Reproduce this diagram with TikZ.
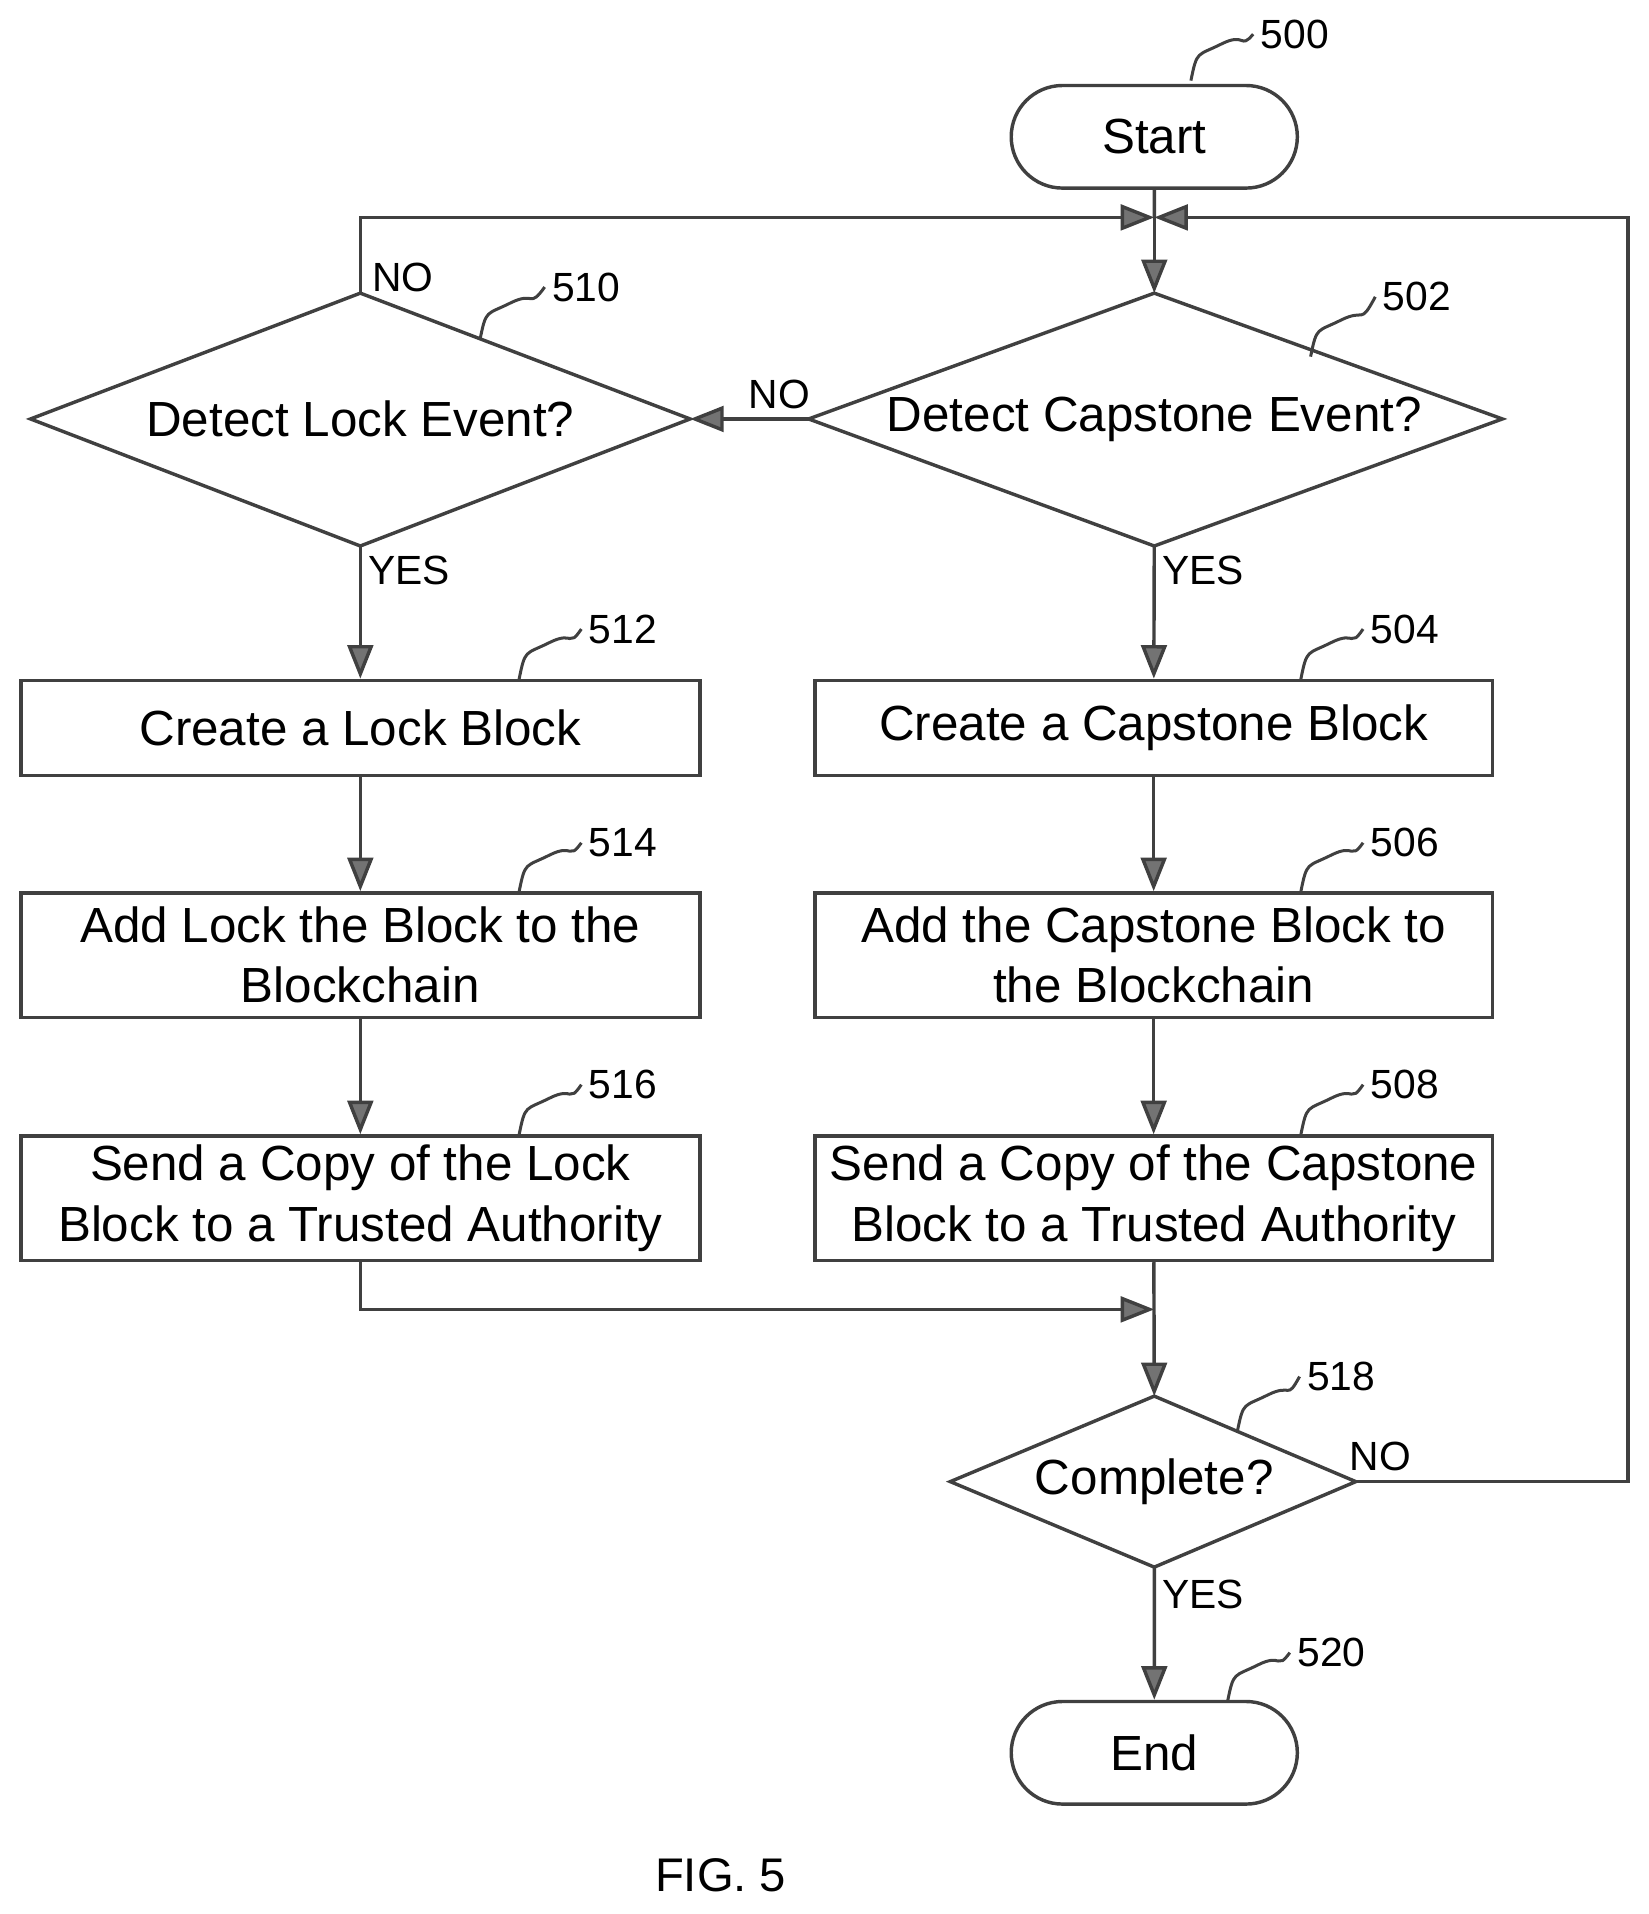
\documentclass[tikz,border=0pt]{standalone}
\usepackage{fontspec}
\setmainfont{Liberation Sans}
\usetikzlibrary{shapes.geometric,shapes.misc,arrows.meta}
\begin{document}
\begin{tikzpicture}[x=0.02cm,y=-0.02cm,
  ln/.style={draw=black!75,line width=1.6pt},
  arr/.style={ln,-{Triangle[length=0.55cm,width=0.42cm,fill=black!55]}},
  box/.style={ln,rectangle,minimum width=11.12cm,align=center,inner sep=0pt,font=\fontsize{23}{28}\selectfont},
  term/.style={ln,rounded rectangle,minimum width=4.92cm,minimum height=1.68cm,font=\fontsize{23}{28}\selectfont},
  dtxt/.style={font=\fontsize{23}{28}\selectfont},
  lab/.style={font=\fontsize{19}{22}\selectfont},
  tag/.style={font=\fontsize{19}{22}\selectfont},
  lead/.style={draw=black!75,line width=1.4pt}]
\useasboundingbox (0,0) rectangle (1350,1567);
\node[term] (start) at (945,112) {Start};
\node[term] (end) at (945,1435) {End};
\coordinate (j) at (945,178);
\path[ln] (662,343) coordinate (d502w) -- (945,240) coordinate (d502n) -- (1230,343) -- (945,447) coordinate (d502s) -- cycle;
\node[dtxt] (t502) at (945,343) {Detect Capstone Event?};
\path[ln] (25,343) -- (295,240) coordinate (d510n) -- (565,343) coordinate (d510e) -- (295,447) coordinate (d510s) -- cycle;
\node[dtxt] (t510) at (295,343) {Detect Lock Event?};
\path[ln] (778,1213) -- (945,1143) coordinate (d518n) -- (1110,1213) coordinate (d518e) -- (945,1283) coordinate (d518s) -- cycle;
\node[dtxt] (t518) at (945,1213) {Complete?};
\node[box,minimum height=1.56cm] (b512) at (295,596) {Create a Lock Block};
\node[box,minimum height=2.04cm] (b514) at (295,782) {Add Lock the Block to the\\Blockchain};
\node[box,minimum height=2.04cm] (b516) at (295,981) {Send a Copy of the Lock\\Block to a Trusted Authority};
\node[box,minimum width=11.1cm,minimum height=1.56cm] (b504) at (944.5,596) {Create a Capstone Block};
\node[box,minimum width=11.1cm,minimum height=2.04cm] (b506) at (944.5,782) {Add the Capstone Block to\\the Blockchain};
\node[box,minimum width=11.1cm,minimum height=2.04cm] (b508) at (944.5,981) {Send a Copy of the Capstone\\Block to a Trusted Authority};
\draw[ln] (start) -- (j);
\draw[arr] (j) -- (d502n);
\draw[arr] (d502w) -- (d510e);
\draw[arr] (d510n) |- (j);
\draw[arr] (d502s) -- (b504);
\draw[arr] (b504) -- (b506);
\draw[arr] (b506) -- (b508);
\draw[arr] (d510s) -- (b512);
\draw[arr] (b512) -- (b514);
\draw[arr] (b514) -- (b516);
\coordinate (m) at (945,1072);
\draw[arr] (b516) |- (m);
\draw[arr] (b508) -- (d518n);
\coordinate (r) at (1333,1213);
\draw[arr] (d518e) -- (r) |- (j);
\draw[arr] (d518s) -- (end);
\node[lab] (n1) at (638,323) {NO};
\node[lab] (n2) at (330,227) {NO};
\node[lab] (n3) at (1130,1192) {NO};
\node[lab] (y1) at (335,467) {YES};
\node[lab] (y2) at (985,467) {YES};
\node[lab] (y3) at (985,1305) {YES};
\foreach \nm/\tx/\x/\y/\ax/\ay in {g500/500/1060/28/975/66, g502/502/1160/243/1073/292, g510/510/480/235/393/278,
  g512/512/510/515/425/556, g514/514/510/690/425/730, g516/516/510/888/425/929,
  g504/504/1150/515/1065/556, g506/506/1150/690/1065/730, g508/508/1150/888/1065/929,
  g518/518/1098/1127/1013/1172, g520/520/1090/1353/1005/1393}{
  \node[tag] (\nm) at (\x,\y) {\tx};
  \draw[lead] (\ax,\ay) .. controls (\ax+5,\ay-25) and (\ax+5,\ay-20) .. (\ax+25,\ay-30) .. controls (\ax+45,\ay-40) and (\ax+40,\ay-25) .. (\nm.west);
}
\node[font=\fontsize{22}{26}\selectfont] (fig) at (590,1535) {FIG. 5};
\end{tikzpicture}
\end{document}
